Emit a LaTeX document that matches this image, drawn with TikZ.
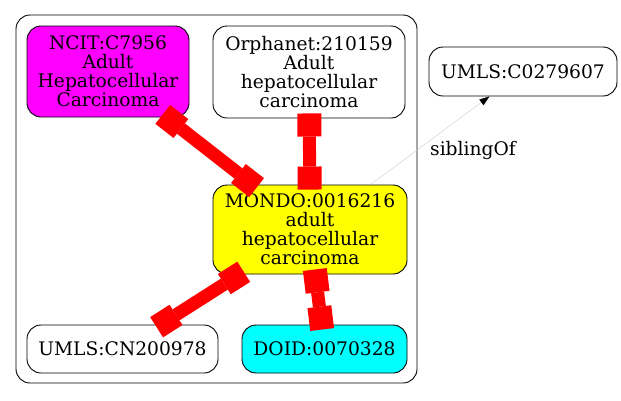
\documentclass[tikz,border=0pt]{standalone}
\usepackage{fontspec}
\setmainfont{DejaVu Serif}
\usepackage{xcolor}
\usepackage{tikz}
\usetikzlibrary{shapes,arrows,positioning,calc,arrows.meta}
\definecolor{ncitfill}{RGB}{255,0,255}
\definecolor{mondofill}{RGB}{255,255,0}
\definecolor{doidfill}{RGB}{0,255,255}

\begin{document}
\begin{tikzpicture}[x=1pt,y=-1pt,
    term/.style={draw, line width=0.9pt, rounded corners=14pt, align=center, inner sep=0pt, font=\fontsize{18.67}{19}\selectfont},
    xref/.style={red, line width=13pt, shorten <=-5pt, shorten >=-5pt, {Square[length=23pt,width=24pt,line width=0pt]}-{Square[length=23pt,width=24pt,line width=0pt]}}]
    \useasboundingbox (0,0) rectangle (621,400);
    \draw[line width=0.9pt, rounded corners=14pt] (16,15) rectangle (417,383);
    \node[term, fill=ncitfill, minimum width=162pt, minimum height=91pt] (ncit) at (108,71.5) {NCIT:C7956\\Adult\\Hepatocellular\\Carcinoma};
    \node[term, minimum width=192pt, minimum height=92pt] (orpha) at (309,72) {Orphanet:210159\\Adult\\hepatocellular\\carcinoma};
    \node[term, fill=mondofill, minimum width=194pt, minimum height=89pt] (mondo) at (310,229.5) {MONDO:0016216\\adult\\hepatocellular\\carcinoma};
    \node[term, minimum width=191pt, minimum height=48pt] (umlscn) at (122.5,349) {UMLS:CN200978};
    \node[term, fill=doidfill, minimum width=165pt, minimum height=48pt] (doid) at (324.5,349) {DOID:0070328};
    \node[term, minimum width=188pt, minimum height=49pt] (umlsc) at (523,71.5) {UMLS:C0279607};
    % equivalence links
    \draw[xref] (ncit) -- (mondo);
    \draw[xref] (orpha) -- (mondo);
    \draw[xref] (mondo) -- (umlscn);
    \draw[xref] (mondo) -- (doid);
    \draw[black!20, line width=0.4pt, -{Triangle[length=10pt,width=7pt,color=black]}] (mondo) -- node[anchor=west, inner sep=0pt, yshift=-9.5pt, text=black, font=\fontsize{18.67}{19}\selectfont] {siblingOf} (umlsc);
\end{tikzpicture}
\end{document}
